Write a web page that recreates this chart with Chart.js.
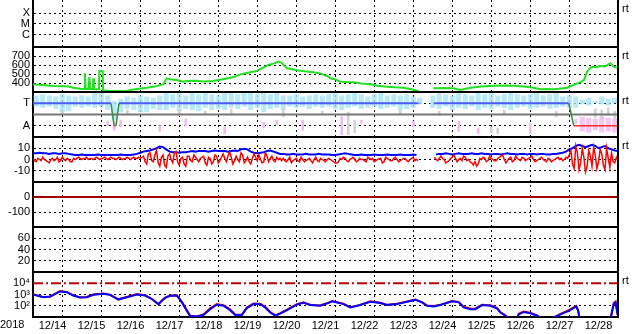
<!DOCTYPE html>
<html>
<head>
<meta charset="utf-8">
<script src="https://cdn.jsdelivr.net/npm/chart.js@4.4.1/dist/chart.umd.min.js"></script>
<style>
  html, body { margin: 0; padding: 0; background: #fff; }
  #wrap { width: 633px; height: 334px; }
</style>
</head>
<body>
<div id="wrap"><canvas id="chart"></canvas></div>
<script>
// time axis: hours since 2018-12-14 00:00 UT
const dayLabels = ['12/14', '12/15', '12/16', '12/17', '12/18', '12/19', '12/20', '12/21',
                   '12/22', '12/23', '12/24', '12/25', '12/26', '12/27', '12/28'];

// solar wind speed (km/s)
const speedHours = [0,3,7.4,10,13,18.7,22,24.8,29,31.4,
  31.9,32.4,34.3,34.7,35.1,36.8,37.1,37.5,38.8,40.6,
  40.8,42.9,43.1,47.4,52,57.9,59.7,65,70,75,
  80.3,82.3,85,88.5,92.6,94.7,100,105,110.9,116,
  121.3,124,127.5,130,133.7,137,141.7,144.7,148,151.1,
  153,156.3,159,162.4,167,172.5,176.8,179,181.9,182.9,
  186,189.1,193,197.3,202,207.6,212,217.9,223,227.9,
  233,237.3,240,246.5,252,258.7,263,269.2,276,283.5,
  290,295.8,302,308,312.3,316,320.5,325,328.7,332,
  334.9,337,339,341,343,345,347,349.2,352,355.4,
  357.2,359.4];
const speedVals = [386,380,375,372,368,363,360,348,335,333,
  508,336,335,470,334,335,452,333,330,333,
  533,530,320,311,312,311,322,335,348,360,
  386,452,440,433,415,422,425,418,422,440,
  459,470,496,505,519,530,570,600,615,637,
  625,563,555,541,530,519,507,490,470,452,
  440,415,410,407,395,385,370,359,352,348,
  330,311,null,341,345,341,322,348,360,370,
  372,370,360,348,330,332,330,340,348,375,
  396,410,433,526,570,581,575,590,585,620,
  581,570];

// IMF sector (A = 1, T = 3), 4-hour bins of phi spread
const bandLo = [2.7,2.6,2.7,2.5,2.2,2.3, 2.7,2.6,2.7,2.6,2.7,2.4, 1.5, 2.2,
  2.5,2.4,2.2,2.2,2.5,2.4, 2.4,2.6,2.3,2.5,2.4,2.3,2.6,2.4,2.5,2.4,
  2.6,2.5,2.7,2.4,2.6,2.2,2.5,2.6,2.4, 2.7,2.6,2.7,2.5,2.7,2.6,
  2.7,2.5,2.4,2.6,2.7,2.5,2.6,2.7,2.5,2.6,2.7,2.4,2.5,2.6, 2.9, null, 2.6,
  2.5,2.7,2.4,2.6,2.5,2.7,2.4,2.6,2.5,2.7,2.6,2.4,2.6,2.7,2.5,2.6,2.7,2.5,2.6,2.7,2.6,
  2.6,2.9,2.8,3.0,2.9,2.8,3.0];
const bandHi = [3.7,3.8,3.7,3.6,3.8,3.7, 3.6,3.7,3.6,3.9,3.9,3.7, 3.2, 3.4,
  3.6,3.5,3.7,3.6,3.5,3.7, 3.9,3.8,3.9,3.7,3.9,3.8,3.9,3.8,3.7,3.9,
  3.9,3.8,3.9,3.9,3.8,3.9,3.8,3.9,3.7, 3.7,3.8,3.6,3.7,3.8,3.7,
  3.8,3.9,3.7,3.8,3.9,3.8,3.6,3.8,3.9,3.7,3.8,3.7,3.8,3.6, 3.5, null, 3.7,
  3.9,3.8,3.7,3.9,3.8,3.7,3.9,3.8,3.9,3.7,3.8,3.9,3.8,3.7,3.8,3.9,3.7,3.8,3.9,3.6,3.7,
  3.6,3.3,3.5,3.2,3.6,3.4,3.5];
const pinkBins = [11,12,13,19,23,29,35,37,41,47,50,58,65,68,76,83];
const pinkLo = [1.0,0.6,0.9,0.5,1.0,0.3,0.8,1.1,0.6,0.2,1.2,0.9,0.5,0.3,0.3,1.2];
const pinkHi = [1.4,1.4,1.5,1.0,1.6,0.9,1.3,1.5,1.5,1.8,1.5,1.4,1.4,0.8,1.2,1.6];
const awayBins = [84,85,86,87,88,89];
const awayLo = [0.5,0.4,0.6,0.4,0.5,0.4];
const awayHi = [1.8,1.7,1.6,1.8,1.7,1.6];
const grayBins = [4,14,22,26,30,38,44,48,49,56,62,70,71,72,80,86,87,88,89];
const grayLo = [2.0,2.1,1.9,2.0,2.1,1.8,2.0,0.2,0.4,2.0,1.9,0.4,0.3,2.0,1.8,1.7,1.6,1.9,1.5];
const grayHi = [2.3,2.4,2.4,2.3,2.5,2.5,2.3,2.2,1.5,2.4,2.3,0.9,0.8,2.4,2.3,2.5,2.4,2.6,2.3];

const towardHours = [0,48.0,48.1,52.9,237.3,237.4,246.6,329.7];
const towardVals = [3,3,null,3,3,null,3,3];
const switchHours = [48.0,49.9,50.5,51.1,52.9,200,329.7,332.8];
const switchVals = [3,1,null,1,3,null,3,1];
const awayHours = [49.9,51.1,51.5,332.8,360];
const awayVals = [1,1,null,1,1];

// IMF Bt (nT), every 2 hours
const magBt = [5.5,5.5,6,5.5,5.5,5,5.5,5.5,5,5.5,5.5,5,4.5,
  4,4,4.5,4,4,4,4,4.5,4,4,4,4,4,4,4.5,4,4,4,4.5,5,6,
  7,7.5,8,9,10,11.5,11,9,7,6.5,6.5,6,6.5,6.5,
  7,7.5,7,7.5,7.5,
  7.5,7,7.5,8,7.5,7.5,
  7.5,7,7.5,8,7.5,9,9.5,9,7,6,5.5,6,6.5,7.5,8,7,6,5,
  5,4.5,4.5,5,4.5,4.5,4.5,5,4.5,4.5,4.5,5,4.5,4.5,4.5,
  4,4,4.5,5,5.5,5,4.5,4,4,4.5,4,4,4,4.5,4,4,4,4.5,4,4,4,4.5,4,4,4,4.5,4,
  null,null,null,null,null,
  4.5,5,5,5.5,5,4.5,5,5.5,5,5,5,5.5,5,5,5.5,5,5,4.5,5,5,4.5,5,5.5,5,5,4.5,5,5,4.5,5,
  5,4.5,5,5,4.5,4.5,5,5,5.5,6,7,
  9,10,12,13,12,11,12,13,12,10,11,12,10,9,8,7.5];
// IMF Bz (nT), hourly
const magBz = [1,-1,-2,1,0,-1,2,0,-1,-2,-3,0,1,-1,0,2,-2,-1,2,0,-1,1,0,-2,-2,
  1,0,1,2,1,0,1,1,2,0,1,1,0,1,2,1,0,1,1,2,1,0,1,2,1,1,0,1,2,1,0,1,1,2,1,0,1,2,1,1,2,1,2,
  3,-2,-4,5,6,-1,-2,4,8,-3,-6,2,4,-5,-7,3,5,0,-3,6,7,-2,-5,1,2,-4,-6,3,
  3,-1,-2,4,2,0,-2,1,2,
  3,-3,-5,2,1,-4,-2,4,3,-3,-1,2,
  5,1,-2,3,7,2,-4,-1,3,0,-2,6,4,-3,-1,2,-2,-4,1,5,2,-1,4,0,-3,-2,6,3,-2,1,3,-1,-2,2,0,1,-1,
  1,-1,-2,0,2,-3,-1,0,1,-1,-2,2,0,-2,-1,0,1,-1,-3,0,2,-1,-2,1,0,-1,-2,0,1,
  0,-1,-2,-3,-3,-2,1,0,2,1,-1,-2,0,1,2,0,-2,-1,1,0,0,-1,-2,2,1,0,1,-2,-1,0,
  1,1,-3,-2,2,1,0,-1,-1,1,2,0,-2,-1,0,1,1,-1,-2,0,1,2,-1,0,-1,
  null,null,null,null,null,null,null,null,null,
  2,0,-1,1,3,1,0,-3,-2,-1,1,2,4,1,-2,0,1,-1,3,2,-1,0,-2,-3,-5,-2,-6,-4,1,0,
  2,1,-2,-1,3,1,0,-1,-1,1,2,3,4,0,-3,-1,1,2,-2,-1,3,1,0,-1,2,1,-1,0,1,2,
  3,0,-2,-1,0,1,2,0,-1,-2,1,0,-2,-1,0,1,2,0,1,-1,0,2,1,
  4,8,-4,-8,12,6,-9,-3,10,2,-11,-6,8,3,-6,11,4,-8,-2,9,5,-5,-9,10,1,-7,6,-2,-3,2,-1];

// Dst (nT)
const dstHours = [0, 360];
const dstVals = [0, 0];

// electron flux
const fluxHours = [0,6.3,10.5,16.6,20.8,24.8,28.9,33.1,37.1,43.3,
  47.4,52.5,57.7,63.9,69,73.1,77.2,79.3,81.3,84.4,
  88.5,91.6,94.7,96.7,100.8,104.9,109,113.1,117.2,121.3,
  124.4,128.5,131.6,135.7,139.8,142.9,146,149.1,152.1,156.3,
  162.4,166.5,170.6,176.8,181.9,184,191.1,195.2,201.4,207.6,
  213.7,217.9,224,230.2,235.3,239.4,242.5,246.6,250.7,257.9,
  262,265,269.2,272.2,276.4,281.5,285.6,287.6,290.7,292.7,
  295,297.9,298.9,302,306.1,310.2,312.3,316,319.5,324.6,
  329.7,334.3,335.5,336.3,345,355.5,357.4,358.5,359.7];
const fluxBlue = [1000,575,660,1860,1620,810,540,575,930,1150,
  930,355,575,1000,810,400,140,280,500,760,
  810,200,35,12,11,15,50,123,100,40,
  15,15,62,140,140,71,25,13,20,40,
  126,186,115,100,178,245,140,71,115,229,
  174,115,140,229,331,200,100,87,115,245,
  200,71,50,50,115,100,56,25,13,8,
  null,8,17,28,21,13,8,null,8,17,
  35,87,35,8,null,8,140,200,16];
const fluxRed = [1050,600,640,2000,1700,850,560,600,980,1250,
  960,380,600,1100,850,420,130,300,540,820,
  870,230,40,13,11,17,60,140,110,48,
  17,16,70,160,150,80,28,14,22,45,
  135,200,120,105,190,260,150,75,120,245,
  185,120,150,240,350,210,105,95,120,260,
  215,80,58,55,125,110,62,28,14,8,
  null,8,19,30,24,14,8,null,8,19,
  40,95,38,8,null,8,180,230,18];
const fluxAlertHours = [0, 360];
const fluxAlertVals = [10000, 10000];

const pts = (xs, ys) => xs.map((x, i) => ({x: x, y: ys[i]}));
const bins = (idx, lo, hi) => idx.map((b, i) => ({x: b * 4 + 2, y: lo[i] == null ? null : [lo[i], hi[i]]}));
const allBins = bandLo.map((_, i) => i);
const btHours = magBt.map((_, i) => i * 2);
const bzHours = magBz.map((_, i) => i);

Chart.defaults.font.family = '"Liberation Sans", Arial, sans-serif';
Chart.defaults.font.size = 11;
Chart.defaults.color = '#000';

const dots = [2, 3];
function panel(weight, height, extra) {
  return Object.assign({
    position: 'left', stack: 'panels', stackWeight: height, weight: weight, offset: false,
    border: {display: true, color: '#000', width: 2, dash: dots},
    grid: {color: '#000', lineWidth: 1, drawTicks: false},
    afterFit(s) { s.width = 33; s.paddingTop = 0; s.paddingBottom = 0; }
  }, extra);
}
function tickAt(values, labels) {
  return {
    afterBuildTicks(s) { s.ticks = values.map(v => ({value: v})); },
    ticks: {padding: 3, autoSkip: false, maxRotation: 0, callback: (v, i) => labels[i]}
  };
}

const line = (label, xs, ys, axis, color, width, order, extra) => Object.assign({
  type: 'line', label: label, data: pts(xs, ys), yAxisID: axis, xAxisID: 'x',
  borderColor: color, borderWidth: width, pointRadius: 0, tension: 0, spanGaps: false, order: order
}, extra || {});
const floatBars = (label, data, color, order, thick, pct) => ({
  type: 'bar', label: label, data: data, yAxisID: 'ySector', xAxisID: 'x',
  backgroundColor: color, borderWidth: 0, grouped: false,
  barPercentage: pct || 1, categoryPercentage: 1, barThickness: thick, order: order
});

const decor = {
  id: 'decor',
  afterDatasetsDraw(chart) {
    const {ctx, chartArea: a, scales} = chart;
    ctx.save();
    ctx.strokeStyle = '#000';
    ctx.lineWidth = 2;
    ctx.beginPath();
    ['yXray', 'ySpeed', 'ySector', 'yMag', 'yDst', 'yKp'].forEach(id => {
      const y = Math.round(scales[id].bottom);
      ctx.moveTo(a.left, y);
      ctx.lineTo(a.right, y);
    });
    ctx.moveTo(a.right, a.top);
    ctx.lineTo(a.right, a.bottom);
    ctx.stroke();
    ctx.fillStyle = '#000';
    ctx.font = '11px "Liberation Sans", Arial, sans-serif';
    ctx.textBaseline = 'middle';
    ctx.textAlign = 'left';
    ['yXray', 'ySpeed', 'ySector', 'yMag', 'yFlux'].forEach(id => {
      ctx.fillText('rt', a.right + 4, scales[id].top + 9);
    });
    ctx.fillText('2018', 0, a.bottom + 8);
    ctx.restore();
  }
};

new Chart(document.getElementById('chart'), {
  type: 'line',
  data: {
    datasets: [
      line('Speed', speedHours, speedVals, 'ySpeed', '#22e022', 2, 1),
      floatBars('phi', bins(allBins, bandLo, bandHi), 'rgba(165,228,248,0.8)', 20, undefined, 0.8),
      floatBars('phi gray', bins(grayBins, grayLo, grayHi), '#d2d2d2', 19, 2),
      floatBars('phi away', bins(pinkBins, pinkLo, pinkHi), '#f2bcf0', 18, 2),
      floatBars('phi away band', bins(awayBins, awayLo, awayHi), 'rgba(242,188,240,0.85)', 17, undefined, 0.8),
      line('mid', [0, 360], [2, 2], 'ySector', '#777', 2, 10),
      line('Toward', towardHours, towardVals, 'ySector', '#4a5cff', 2, 3),
      line('Switch', switchHours, switchVals, 'ySector', '#3d8a3d', 1.5, 2),
      line('Away', awayHours, awayVals, 'ySector', '#ff2a2a', 1.5, 2),
      line('Bt', btHours, magBt, 'yMag', '#0000ff', 2, 5),
      line('Bz', bzHours, magBz, 'yMag', '#ff0000', 1.5, 4),
      line('Dst', dstHours, dstVals, 'yDst', '#a00000', 2, 1),
      line('Alert', fluxAlertHours, fluxAlertVals, 'yFlux', '#c00000', 2, 7, {borderDash: [10, 3, 2, 3]}),
      line('Flux red', fluxHours, fluxRed, 'yFlux', '#ff0000', 2, 6),
      line('Flux blue', fluxHours, fluxBlue, 'yFlux', '#0000ff', 2, 5)
    ]
  },
  options: {
    responsive: true,
    maintainAspectRatio: false,
    animation: false,
    layout: {padding: {left: 0, right: 15, top: 0, bottom: 0}},
    plugins: {legend: {display: false}, tooltip: {enabled: false}},
    scales: {
      x: {
        type: 'linear', min: 0, max: 360, offset: false,
        afterBuildTicks(s) { s.ticks = [0].concat(dayLabels.map((_, i) => i * 24 + 12), dayLabels.map((_, i) => i * 24 + 24)).sort((p, q) => p - q).map(v => ({value: v})); },
        border: {display: true, color: '#000', width: 2, dash: dots},
        grid: {
          drawTicks: false, lineWidth: 1,
          color: c => (c.tick && c.tick.value % 24 === 0 && c.tick.value > 0 && c.tick.value < 360) ? '#000' : 'rgba(0,0,0,0)'
        },
        ticks: {
          padding: 2, autoSkip: false, maxRotation: 0,
          callback: v => (v % 24 === 12 ? dayLabels[(v - 12) / 24] : '')
        },
        afterFit(s) { s.height = 17; s.paddingLeft = 0; s.paddingRight = 0; }
      },
      yXray: panel(7, 47, Object.assign({type: 'logarithmic', min: 7e-8, max: 1.75e-3}, tickAt([1e-6, 1e-5, 1e-4], ['C', 'M', 'X']))),
      ySpeed: panel(6, 45, Object.assign({type: 'linear', min: 300, max: 800}, tickAt([400, 500, 600, 700], ['400', '500', '600', '700']))),
      ySector: panel(5, 45, Object.assign({type: 'linear', min: 0, max: 4}, tickAt([1, 3], ['A', 'T']))),
      yMag: panel(4, 45, Object.assign({type: 'linear', min: -20, max: 20}, tickAt([-10, 0, 10], ['-10', '0', '10']))),
      yDst: panel(3, 45, Object.assign({type: 'linear', min: -200, max: 100}, tickAt([-100, 0], ['-100', '0']))),
      yKp: panel(2, 45, Object.assign({type: 'linear', min: 0, max: 80}, tickAt([20, 40, 60], ['20', '40', '60']))),
      yFlux: panel(1, 45, Object.assign({type: 'logarithmic', min: 10, max: 1e5}, tickAt([100, 1000, 10000], ['10²', '10³', '10⁴']), {
        grid: {drawTicks: false, lineWidth: 1, color: c => (c.tick && c.tick.value === 10000) ? 'rgba(0,0,0,0)' : '#000'}
      }))
    }
  },
  plugins: [decor]
});
</script>
</body>
</html>
